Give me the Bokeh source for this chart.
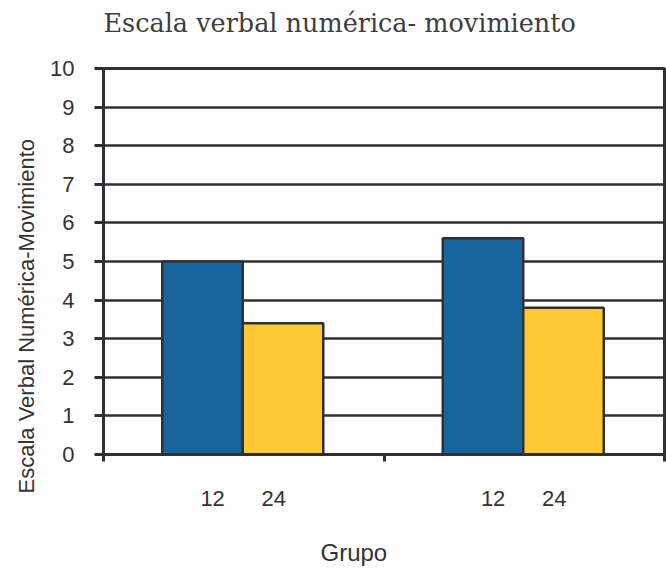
from bokeh.plotting import figure
from bokeh.models import Range1d, FixedTicker, Title
from bokeh.embed import file_html
from bokeh.resources import INLINE

# ---- data ----
title_text = "Escala verbal numérica- movimiento"
y_title = "Escala Verbal Numérica-Movimiento"
x_title = "Grupo"
series_names = ["12", "24"]
group_index = [0, 1]
values_12 = [5.0, 5.6]
values_24 = [3.4, 3.8]
y_ticks = [0, 1, 2, 3, 4, 5, 6, 7, 8, 9, 10]

# ---- style ----
blue = "#17659c"
yellow = "#ffc933"
ink = "#2e3035"
txt = "#333333"
sans = "Liberation Sans"

p = figure(frame_width=561, frame_height=386,
           min_border_left=103, min_border_right=2,
           min_border_top=68, min_border_bottom=119,
           x_range=Range1d(0, len(group_index)), y_range=Range1d(0, 10),
           output_backend="svg", toolbar_location=None)

p.background_fill_color = "white"
p.border_fill_color = "white"
p.outline_line_color = ink
p.outline_line_width = 3

# bars
bar_w = 0.287
x12 = [g + 0.353 for g in group_index]
x24 = [g + 0.640 for g in group_index]
p.vbar(x=x12, top=values_12, bottom=0, width=bar_w,
       fill_color=blue, line_color=ink, line_width=2.5)
p.vbar(x=x24, top=values_24, bottom=0, width=bar_w,
       fill_color=yellow, line_color=ink, line_width=2.5)

# y axis
p.yaxis.ticker = FixedTicker(ticks=y_ticks)
p.yaxis.axis_line_color = ink
p.yaxis.axis_line_width = 3
p.yaxis.major_tick_line_color = ink
p.yaxis.major_tick_line_width = 3
p.yaxis.major_tick_in = 0
p.yaxis.major_tick_out = 9
p.yaxis.minor_tick_line_color = None
p.yaxis.major_label_text_font = sans
p.yaxis.major_label_text_font_size = "22px"
p.yaxis.major_label_text_color = txt
p.yaxis.major_label_standoff = 20

# x axis: labels per series under each group, separators as minor ticks
label_pos = []
overrides = {}
for g in group_index:
    for off, name in zip([0.389, 0.607], series_names):
        v = g + off
        label_pos.append(v)
        overrides[v] = name
p.xaxis.ticker = FixedTicker(ticks=label_pos, minor_ticks=[0, 1, 2])
p.xaxis.major_label_overrides = overrides
p.xaxis.axis_line_color = ink
p.xaxis.axis_line_width = 3
p.xaxis.major_tick_line_color = None
p.xaxis.major_tick_in = 0
p.xaxis.major_tick_out = 0
p.xaxis.minor_tick_line_color = ink
p.xaxis.minor_tick_line_width = 3
p.xaxis.minor_tick_in = 0
p.xaxis.minor_tick_out = 7
p.xaxis.major_label_text_font = sans
p.xaxis.major_label_text_font_size = "22px"
p.xaxis.major_label_text_color = txt
p.xaxis.major_label_standoff = 29

# grid
p.xgrid.visible = False
p.ygrid.grid_line_color = ink
p.ygrid.grid_line_width = 2.5
p.ygrid.grid_line_alpha = 1

# texts
p.add_layout(Title(text=title_text, text_font="DejaVu Serif", text_font_size="25.5px",
                   text_font_style="normal", text_color="#3d3d3d",
                   align="left", offset=0, standoff=0,
                   padding=dict(top=0, right=0, bottom=31, left=0)), "above")
p.add_layout(Title(text=x_title, text_font=sans, text_font_size="24px",
                   text_font_style="normal", text_color=txt,
                   align="left", offset=217, standoff=0,
                   padding=dict(top=28, right=0, bottom=0, left=0)), "below")
p.add_layout(Title(text=y_title, text_font=sans, text_font_size="22px",
                   text_font_style="normal", text_color=txt,
                   align="left", offset=-39, standoff=18), "left")

open("out.html", "w").write(file_html(p, INLINE))
